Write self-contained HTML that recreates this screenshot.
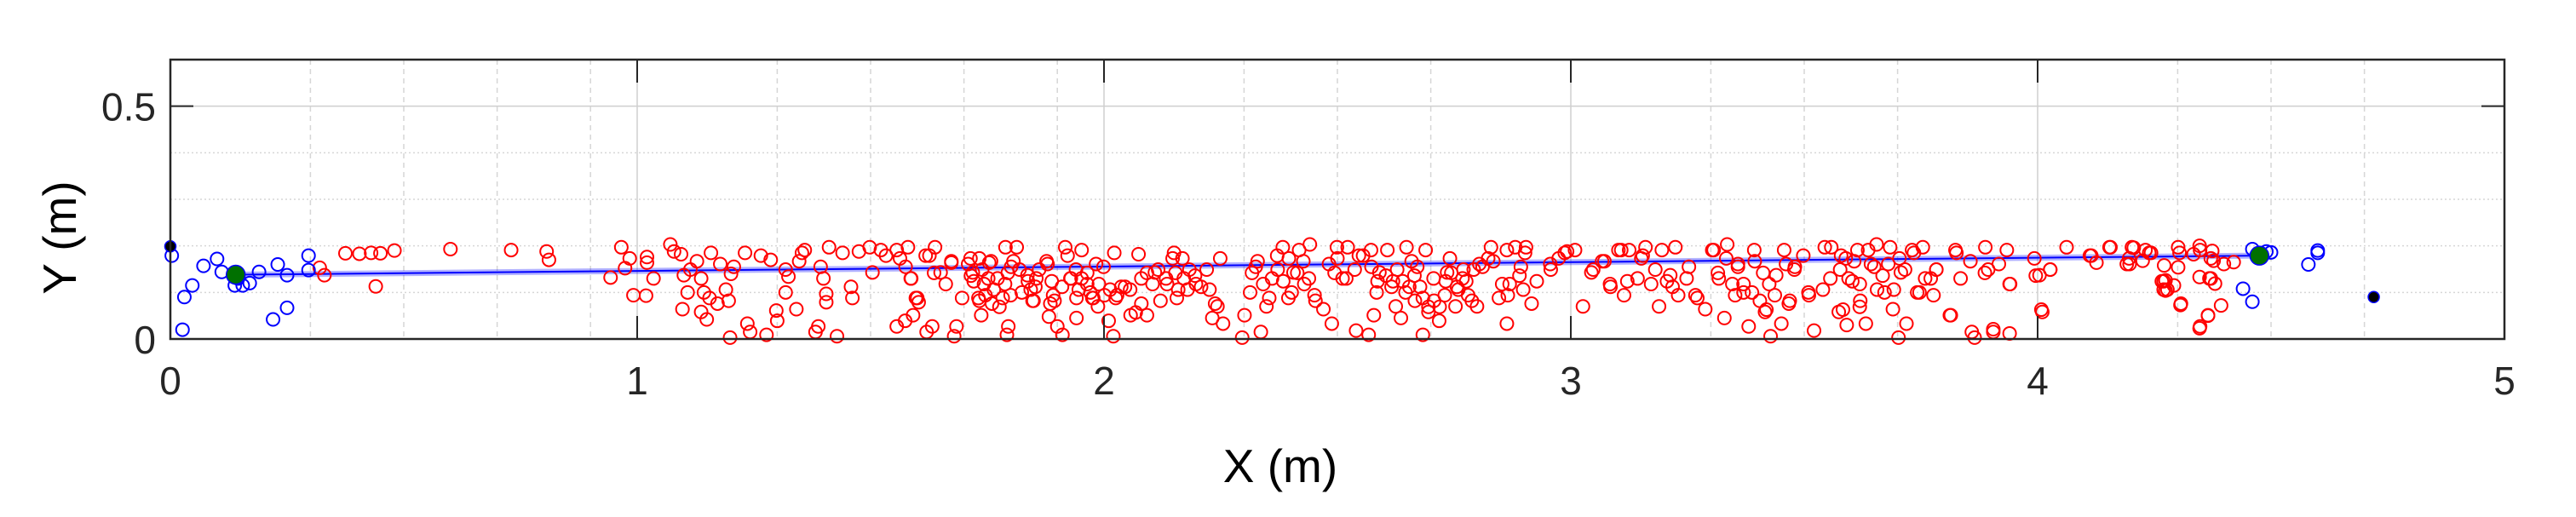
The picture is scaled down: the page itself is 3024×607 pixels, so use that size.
<!DOCTYPE html>
<html><head><meta charset="utf-8"><style>
html,body{margin:0;padding:0;background:#fff;}
svg{display:block;}
text{font-family:"Liberation Sans",sans-serif;fill:#262626;}
</style></head><body>
<svg id="chart" width="3024" height="607" viewBox="0 0 3024 607" xmlns="http://www.w3.org/2000/svg">
<g id="grid"></g>
<g id="marks"></g>
<g id="axes"></g>
</svg>
<script>
const xTicks = [0,1,2,3,4,5];
const yTicks = [0,0.5];
const xMinorGrid = [0.3,0.5,0.7,0.9,1.3,1.5,1.7,1.9,2.3,2.5,2.7,3.3,3.5,3.7,4.3,4.5,4.7];
const yMinorGrid = [0.1,0.2,0.3,0.4];
const xTickLabels = ["0","1","2","3","4","5"];
const yTickLabels = ["0","0.5"];
const redPoints = [
[0.32,0.153],[0.33,0.137],[0.375,0.184],[0.405,0.183],[0.43,0.185],[0.45,0.184],[0.48,0.19],[0.44,0.113],[0.6,0.193],
[0.73,0.191],[0.806,0.188],[0.811,0.170],[0.943,0.132],[0.966,0.197],[0.974,0.152],[0.984,0.173],[0.992,0.094],[1.019,0.093],[1.021,0.176],[1.021,0.164],[1.035,0.130],[1.071,0.203],[1.079,0.188],[1.094,0.182],[1.097,0.064],[1.100,0.137],[1.108,0.100],[1.114,0.149],[1.128,0.167],[1.137,0.130],[1.137,0.058],[1.143,0.100],[1.149,0.042],[1.155,0.088],[1.158,0.185],[1.172,0.076],[1.178,0.161],[1.190,0.106],[1.196,0.082],[1.199,0.003],[1.201,0.140],[1.207,0.155],[1.231,0.185],[1.236,0.033],[1.242,0.015],[1.265,0.179],[1.277,0.009],[1.286,0.170],[1.298,0.061],[1.300,0.039],[1.318,0.100],[1.318,0.149],[1.324,0.134],[1.341,0.064],[1.347,0.167],[1.353,0.185],[1.359,0.191],[1.382,0.015],[1.388,0.027],[1.393,0.155],[1.399,0.130],[1.405,0.097],[1.405,0.079],[1.411,0.197],[1.428,0.006],[1.440,0.185],[1.458,0.112],[1.461,0.088],[1.475,0.188],[1.498,0.197],[1.504,0.143],[1.522,0.191],[1.533,0.179],[1.556,0.027],[1.556,0.191],[1.574,0.039],[1.580,0.197],[1.586,0.130],[1.591,0.051],[1.597,0.088],[1.603,0.079],[1.620,0.015],[1.626,0.179],[1.632,0.027],[1.638,0.197],[1.650,0.143],[1.661,0.118],[1.673,0.164],[1.679,0.006],[1.684,0.027],[1.696,0.088],[1.714,0.173],[1.719,0.143],[1.731,0.088],[1.737,0.051],[1.743,0.118],[1.754,0.164],[1.760,0.076],[1.772,0.130],[1.783,0.088],[1.789,0.197],[1.792,0.009],[1.795,0.027],[1.801,0.155],[1.813,0.197],[1.824,0.100],[1.836,0.137],[1.847,0.082],[1.853,0.112],[1.877,0.167],[1.882,0.048],[1.888,0.124],[1.894,0.082],[1.900,0.027],[1.911,0.009],[1.917,0.197],[1.929,0.130],[1.941,0.045],[1.941,0.088],[1.952,0.191],[1.964,0.118],[1.975,0.088],[1.987,0.070],[1.999,0.155],[2.010,0.039],[2.020,0.006],[2.022,0.185],[2.028,0.094],[2.045,0.112],[2.057,0.051],[2.074,0.182],[2.080,0.076],[2.092,0.051],[2.109,0.143],[2.121,0.082],[2.133,0.130],[2.150,0.185],[2.156,0.088],[2.168,0.173],[2.179,0.106],[2.197,0.118],[2.220,0.149],[2.232,0.045],[2.243,0.070],[2.249,0.173],[2.255,0.033],[2.296,0.003],[2.301,0.051],[2.313,0.100],[2.325,0.155],[2.336,0.015],[2.348,0.070],[2.360,0.130],[2.371,0.179],[2.383,0.197],[2.395,0.088],[2.406,0.143],[2.418,0.191],[2.429,0.118],[2.441,0.203],[2.453,0.082],[2.470,0.064],[2.488,0.033],[2.499,0.197],[2.511,0.130],[2.522,0.197],[2.540,0.018],[2.546,0.179],
[2.567,0.009],[2.572,0.191],[2.578,0.051],[2.584,0.100],[2.590,0.143],[2.607,0.191],[2.619,0.124],[2.625,0.070],[2.636,0.045],[2.648,0.197],[2.654,0.112],[2.666,0.082],[2.671,0.155],[2.683,0.009],[2.689,0.191],[2.695,0.058],[2.706,0.130],[2.718,0.039],[2.730,0.094],[2.735,0.143],[2.741,0.173],[2.753,0.070],[2.759,0.106],[2.770,0.149],[2.776,0.124],[2.788,0.082],[2.799,0.070],[2.811,0.155],[2.829,0.197],[2.834,0.167],[2.846,0.088],[2.863,0.033],[2.863,0.191],[2.869,0.118],[2.881,0.197],[2.893,0.155],[2.898,0.106],[2.904,0.197],[2.916,0.076],[2.927,0.124],[2.957,0.149],[2.974,0.173],[2.992,0.188],[3.009,0.191],[3.026,0.070],[3.044,0.143],[3.067,0.167],[3.085,0.112],[3.102,0.191],[3.114,0.094],[3.125,0.191],[3.143,0.130],[3.154,0.179],[3.160,0.197],[3.172,0.118],[3.189,0.070],[3.195,0.191],[3.213,0.137],[3.224,0.197],[3.230,0.094],[3.253,0.155],[3.271,0.088],[3.288,0.064],[3.306,0.191],[3.317,0.130],[3.329,0.045],[3.335,0.203],[3.352,0.094],[3.358,0.161],[3.370,0.118],[3.381,0.027],[3.393,0.191],[3.405,0.082],[3.416,0.058],[3.428,0.006],[3.440,0.137],[3.451,0.033],[3.457,0.191],[3.469,0.082],[3.480,0.155],[3.498,0.179],[3.509,0.100],[3.521,0.018],[3.544,0.197],[3.556,0.130],[3.574,0.058],[3.579,0.179],[3.591,0.030],[3.603,0.124],[3.614,0.191],[3.620,0.082],[3.632,0.033],[3.643,0.161],[3.655,0.203],[3.672,0.100],[3.684,0.197],[3.690,0.064],[3.702,0.003],[3.707,0.143],[3.719,0.033],[3.731,0.191],[3.742,0.100],[3.754,0.197],[3.771,0.130],[3.783,0.149],[3.812,0.051],[3.824,0.191],[3.835,0.130],[3.859,0.015],[3.865,0.003],[3.888,0.197],[3.894,0.149],[3.905,0.015],[3.934,0.191],[3.940,0.118],[3.940,0.012],[3.993,0.173],[4.004,0.137],[4.010,0.058],[4.027,0.149],[4.062,0.197],[4.115,0.179],[4.126,0.164],[4.156,0.197],[4.196,0.173],[4.202,0.197],[4.231,0.191],[4.266,0.124],[4.278,0.106],[4.301,0.197],[4.307,0.076],[4.348,0.191],[4.348,0.027],[4.365,0.051],[4.371,0.130],[4.371,0.173],
[4.197,0.161],[4.206,0.196],[4.225,0.168],[4.243,0.185],[4.271,0.158],[4.274,0.126],[4.274,0.104],[4.292,0.115],[4.304,0.185],[4.301,0.154],[4.306,0.073],[4.334,0.182],[4.347,0.200],[4.347,0.133],[4.365,0.050],[4.347,0.023],[4.368,0.130],[4.374,0.189],[4.377,0.168],[4.380,0.119],[4.393,0.072],[4.399,0.161],[4.420,0.165],
[1.709,0.161],[1.715,0.136],[1.721,0.124],[1.733,0.173],[1.739,0.149],[1.752,0.130],[1.758,0.167],[1.733,0.082],[1.746,0.094],[1.764,0.106],[1.776,0.069],[1.788,0.118],[1.794,0.142],[1.800,0.094],[1.806,0.167],[1.819,0.149],[1.837,0.124],[1.843,0.106],[1.849,0.082],[1.855,0.130],[1.861,0.149],[1.879,0.161],[1.885,0.076],[1.891,0.094],[1.910,0.112],[1.922,0.179],[1.928,0.130],[1.940,0.149],[1.946,0.106],[1.952,0.130],[1.964,0.142],[1.971,0.100],[1.977,0.088],[1.983,0.161],[1.989,0.118],[2.001,0.094],[2.013,0.106],[2.025,0.088],[2.037,0.112],[2.056,0.106],[2.068,0.057],[2.080,0.130],[2.092,0.142],[2.104,0.118],[2.116,0.149],[2.135,0.118],[2.147,0.173],[2.153,0.142],[2.159,0.106],[2.171,0.130],[2.183,0.149],[2.195,0.136],[2.208,0.112],[2.226,0.106],[2.238,0.076],[2.317,0.142],[2.329,0.167],[2.341,0.118],[2.354,0.088],[2.372,0.149],[2.384,0.124],[2.396,0.173],[2.402,0.100],[2.414,0.142],[2.427,0.167],[2.439,0.130],[2.451,0.094],[1.563,0.173],[1.575,0.155],[1.587,0.130],[1.618,0.179],[1.636,0.142],[1.600,0.088],[1.673,0.167],
[2.482,0.161],[2.494,0.142],[2.500,0.173],[2.519,0.130],[2.537,0.149],[2.555,0.179],[2.573,0.155],[2.586,0.124],[2.604,0.136],[2.616,0.112],[2.628,0.149],[2.640,0.124],[2.646,0.100],[2.659,0.167],[2.665,0.136],[2.677,0.112],[2.683,0.088],[2.695,0.069],[2.707,0.082],[2.719,0.069],[2.732,0.124],[2.744,0.142],[2.756,0.112],[2.768,0.130],[2.780,0.094],[2.792,0.149],[2.804,0.161],[2.823,0.173],[2.853,0.118],[2.865,0.094],[2.890,0.136],[2.902,0.185],[2.956,0.161],[2.987,0.185],[3.048,0.149],[3.072,0.167],[3.084,0.118],[3.108,0.191],[3.121,0.124],[3.151,0.173],[3.181,0.149],[3.206,0.124],[3.218,0.112],[3.248,0.130],[3.267,0.094],[3.303,0.191],[3.315,0.142],[3.333,0.173],[3.346,0.118],[3.358,0.155],[3.370,0.100],
[3.394,0.167],[3.412,0.142],[3.425,0.118],[3.437,0.094],[3.388,0.100],[3.419,0.063],[3.461,0.161],[3.479,0.149],[3.467,0.076],[3.510,0.094],[3.540,0.106],[3.558,0.197],[3.577,0.149],[3.589,0.173],[3.595,0.130],[3.607,0.167],[3.619,0.118],[3.583,0.063],[3.619,0.069],[3.637,0.191],[3.650,0.155],[3.656,0.106],[3.668,0.136],[3.680,0.161],[3.692,0.106],[3.704,0.173],[3.716,0.149],[3.735,0.185],[3.747,0.100],[3.759,0.130],[3.777,0.094],[3.783,0.149],[3.814,0.051],[3.826,0.185],[3.856,0.167],[3.887,0.142],[3.905,0.021],[3.917,0.161],[3.941,0.118],[3.996,0.136],[4.008,0.063],[4.027,0.149],[4.112,0.179],[4.154,0.197],[4.191,0.161],[4.239,0.185],[4.270,0.124],[4.270,0.106]
];
const bluePoints = [
[0.003,0.179],[0.03,0.09],[0.047,0.115],[0.026,0.02],[0.071,0.157],[0.10,0.172],[0.11,0.144],[0.138,0.115],[0.155,0.115],[0.17,0.12],[0.19,0.144],[0.23,0.16],[0.25,0.137],[0.22,0.042],[0.25,0.067],[0.296,0.179],[0.296,0.148],[0.145,0.13],
[4.46,0.193],[4.50,0.186],[4.60,0.19],[4.60,0.185],[4.58,0.16],[4.44,0.108],[4.46,0.08],[4.49,0.188]
];
const fitLineX = [0.14,4.475];
const fitLineY = [0.138,0.179];
const greenPoints = [[0.14,0.138],[4.475,0.179]];
const blackPoints = [[0.0,0.199],[4.72,0.09]];

const X0=200, X1=2940, Y0=398, Y1=70, XMAX=5, YMAX=0.6;
function sx(v){return X0+(X1-X0)*v/XMAX;}
function sy(v){return Y0-(Y0-Y1)*v/YMAX;}
const NS="http://www.w3.org/2000/svg";
function mk(tag,attrs,parent){const e=document.createElementNS(NS,tag);for(const k in attrs)e.setAttribute(k,attrs[k]);parent.appendChild(e);return e;}
const grid=document.getElementById('grid'), marks=document.getElementById('marks'), axes=document.getElementById('axes');

xMinorGrid.forEach(v=>{const l=mk('line',{x1:sx(v),x2:sx(v),y1:Y1,y2:Y0,stroke:'#d6d6d6','stroke-width':1.5,'stroke-dasharray':'6,5'},grid);

});
yMinorGrid.forEach(v=>{const l=mk('line',{x1:X0,x2:X1,y1:sy(v),y2:sy(v),stroke:'#d6d6d6','stroke-width':1.5,'stroke-dasharray':'2,3'},grid);

});
xTicks.slice(1,-1).forEach(v=>{const l=mk('line',{x1:sx(v),x2:sx(v),y1:Y1,y2:Y0,stroke:'#cfcfcf','stroke-width':1.5},grid);

});
yTicks.slice(1).forEach(v=>{const l=mk('line',{x1:X0,x2:X1,y1:sy(v),y2:sy(v),stroke:'#cfcfcf','stroke-width':1.5},grid);

});

const fl=mk('line',{x1:sx(fitLineX[0]),y1:sy(fitLineY[0]),x2:sx(fitLineX[1]),y2:sy(fitLineY[1]),stroke:'#0000ff','stroke-opacity':0.3,'stroke-width':7},marks);


const fl2=mk('line',{x1:sx(fitLineX[0]),y1:sy(fitLineY[0]),x2:sx(fitLineX[1]),y2:sy(fitLineY[1]),stroke:'#0000ff','stroke-width':2},marks);



redPoints.forEach(p=>{const c=mk('circle',{cx:sx(p[0]),cy:sy(p[1]),r:7.5,fill:'none',stroke:'#ff0000','stroke-width':2},marks);

});
bluePoints.forEach(p=>{const c=mk('circle',{cx:sx(p[0]),cy:sy(p[1]),r:7.5,fill:'none',stroke:'#0000ff','stroke-width':2},marks);

});
greenPoints.forEach(p=>{const c=mk('circle',{cx:sx(p[0]),cy:sy(p[1]),r:11,fill:'#007000',stroke:'#0000ff','stroke-width':1.5},marks);

});
blackPoints.forEach(p=>{const c=mk('circle',{cx:sx(p[0]),cy:sy(p[1]),r:6.5,fill:'#000',stroke:'#0000ff','stroke-width':1.5},marks);

});

const box=mk('rect',{x:X0,y:Y1,width:X1-X0,height:Y0-Y1,fill:'none',stroke:'#262626','stroke-width':2.5},axes);


xTicks.forEach((v,i)=>{
 const t1=mk('line',{x1:sx(v),x2:sx(v),y1:Y0,y2:Y0-27,stroke:'#262626','stroke-width':2},axes);
 
 
 const t2=mk('line',{x1:sx(v),x2:sx(v),y1:Y1,y2:Y1+27,stroke:'#262626','stroke-width':2},axes);
 
 
 const tx=mk('text',{x:sx(v),y:463,'text-anchor':'middle','font-size':46},axes);
 tx.textContent=xTickLabels[i];
 
 
});
yTicks.forEach((v,i)=>{
 const t1=mk('line',{x1:X0,x2:X0+27,y1:sy(v),y2:sy(v),stroke:'#262626','stroke-width':2},axes);
 
 
 const t2=mk('line',{x1:X1,x2:X1-27,y1:sy(v),y2:sy(v),stroke:'#262626','stroke-width':2},axes);
 
 
 const tx=mk('text',{x:183,y:sy(v)+17,'text-anchor':'end','font-size':46},axes);
 tx.textContent=yTickLabels[i];
 
 
});
</script>
<svg style="position:absolute;left:0;top:0" width="3024" height="607">
<text x="1503" y="566" text-anchor="middle" font-size="55" style="fill:#000">X (m)</text>
<text x="0" y="0" text-anchor="middle" font-size="55" transform="translate(89,279) rotate(-90)" style="fill:#000">Y (m)</text>
</svg>
</body></html>
